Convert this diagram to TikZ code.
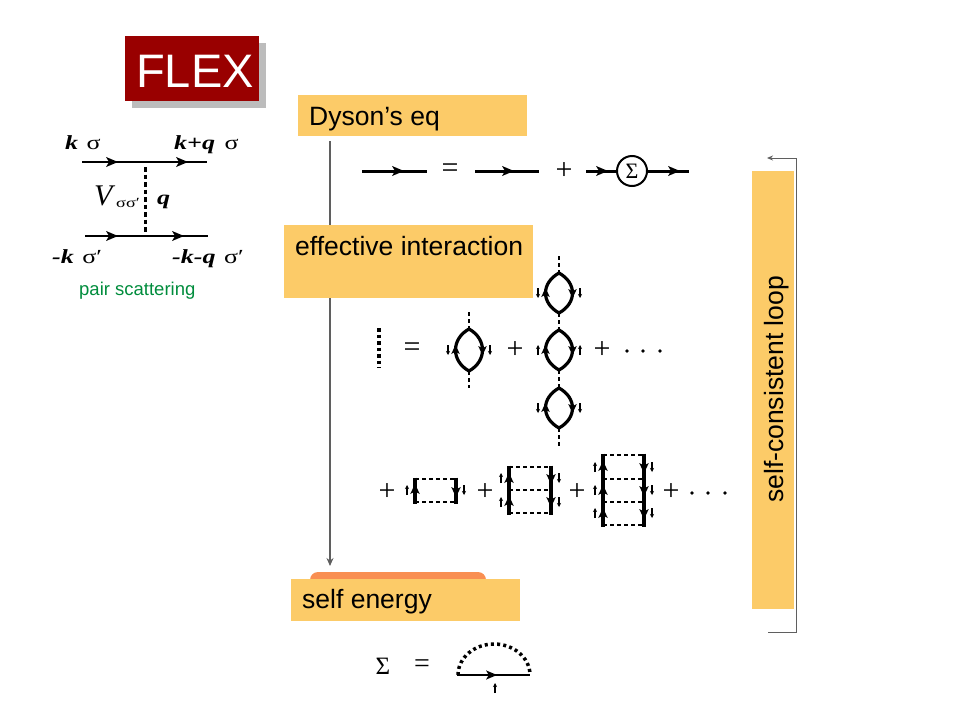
\documentclass[tikz,border=0pt]{standalone}
\usepackage{fontspec}
\setmainfont{Liberation Sans}
\newfontfamily\tms{Liberation Serif}
\newfontfamily\tmsw[FakeStretch=1.3]{Liberation Serif}
\usetikzlibrary{arrows.meta}
\definecolor{flexred}{RGB}{153,0,0}
\definecolor{flexshadow}{RGB}{188,188,188}
\definecolor{boxyel}{RGB}{252,203,104}
\definecolor{boxorg}{RGB}{249,143,82}
\definecolor{pairgreen}{RGB}{0,140,60}
\definecolor{flowgray}{RGB}{95,95,95}
\newcommand\myfs[1]{\fontsize{#1}{#1}\selectfont}
% filled arrow heads: tip at (#1,#2), length #3
\newcommand\tipR[3]{\fill (#1,#2) -- ++(-#3,-0.42*#3) -- ++(0.25*#3,0.42*#3) -- ++(-0.25*#3,0.42*#3) -- cycle;}
\newcommand\tipU[3]{\fill (#1,#2) -- ++(-0.48*#3,#3) -- ++(0.48*#3,-0.25*#3) -- ++(0.48*#3,0.25*#3) -- cycle;}
\newcommand\tipD[3]{\fill (#1,#2) -- ++(-0.48*#3,-#3) -- ++(0.48*#3,0.25*#3) -- ++(0.48*#3,-0.25*#3) -- cycle;}
\begin{document}
\begin{tikzpicture}[x=1pt,y=-1pt,
  prop/.style={line width=3pt},
  fprop/.style={line width=2.4pt},
  lensline/.style={line width=3.2pt},
  ladline/.style={line width=3.4pt},
  spin/.style={line width=1.1pt,-{Stealth[length=4pt,width=4pt]}},
  thindash/.style={line width=1.4pt,dash pattern=on 4pt off 3pt},
  thickdot/.style={line width=4pt,dash pattern=on 3.5pt off 3pt},
  ybox/.style={fill=boxyel,anchor=north west,inner sep=0pt},
  lbl/.style={anchor=base west,inner sep=0pt},
  sym/.style={inner sep=0pt,font=\tms\myfs{30}},
  dotc/.style={fill=black,circle,inner sep=0pt,minimum size=3.8pt},
  flow/.style={flowgray,line width=1.2pt,-{Stealth[length=8pt,width=7pt]}},
  loopline/.style={flowgray,line width=1pt,-{Stealth[length=6pt,width=5pt]}}
]
\useasboundingbox (0,0) rectangle (960,720);

% ---------- FLEX title ----------
\fill[flexshadow] (132,43) rectangle (266,108);
\node[fill=flexred,anchor=north west,minimum width=134pt,minimum height=65pt,inner sep=0pt] (flexbox) at (125,36) {};
\node[lbl,text=white,font=\myfs{47}] (flextext) at (136,87) {FLEX};

% ---------- pair scattering diagram ----------
\coordinate (t1) at (82,162); \coordinate (t2) at (207,162);
\coordinate (b1) at (85,236); \coordinate (b2) at (208,236);
\coordinate (vt) at (145,167); \coordinate (vb) at (145,233);
\draw[fprop] (t1) -- (t2);
\draw[fprop] (b1) -- (b2);
\tipR{118}{162}{12} \tipR{188}{162}{12}
\tipR{118}{236}{12} \tipR{184}{236}{12}
\draw[line width=3pt,dash pattern=on 4.5pt off 3pt] (vt) -- (vb);
\node[lbl,font=\tmsw\myfs{20}] (lks) at (65,149) {\textbf{\textit{k}}\hspace{2pt} σ};
\node[lbl,font=\tmsw\myfs{20}] (lkqs) at (174,149) {\textbf{\textit{k+q}}\hspace{3pt} σ};
\node[lbl,font=\tms\myfs{30}] (lV) at (94,205) {\textit{V}};
\node[lbl,font=\tmsw\myfs{14}] (lVs) at (116,207) {σσ′};
\node[lbl,font=\tmsw\myfs{20}] (lq) at (157,204) {\textbf{\textit{q}}};
\node[lbl,font=\tmsw\myfs{20}] (lmks) at (52,263) {\textbf{\textit{-k}}\hspace{2pt} σ′};
\node[lbl,font=\tmsw\myfs{20}] (lmkqs) at (172,263) {\textbf{\textit{-k-q}}\hspace{2pt} σ′};
\node[lbl,text=pairgreen,font=\myfs{18.5}] (pair) at (79,295) {pair scattering};

% ---------- flow arrow ----------
\coordinate (dysonout) at (330,141);
\coordinate (selfin) at (330,566);
\draw[flow] (dysonout) -- (selfin);

% ---------- boxes ----------
\node[ybox,minimum width=229pt,minimum height=41pt] (dysonbox) at (298,95) {};
\node[lbl,font=\myfs{26.5}] (dysontext) at (309,125) {Dyson’s eq};
\node[ybox,minimum width=249pt,minimum height=73pt] (effbox) at (284,225) {};
\node[lbl,font=\myfs{26.5}] (efftext) at (295,255) {effective interaction};
\fill[boxorg,rounded corners=8pt] (310,572) rectangle (486,592);
\node[ybox,minimum width=229pt,minimum height=42pt] (selfbox) at (291,579) {};
\node[lbl,font=\myfs{26.5}] (selftext) at (302,608) {self energy};
\node[ybox,minimum width=42pt,minimum height=438pt] (loopbox) at (752,171) {};
\node[lbl,rotate=90,font=\myfs{26.5}] (looptext) at (783,503) {self-consistent loop};
\coordinate (loopa) at (768,632); \coordinate (loopb) at (796,632);
\coordinate (loopc) at (796,158); \coordinate (loopd) at (767,158);
\draw[loopline] (loopa) -- (loopb) -- (loopc) -- (loopd);

% ---------- Dyson equation ----------
\node[draw,circle,line width=2pt,minimum size=30pt,inner sep=0pt,font=\tms\myfs{22}] (sig) at (632,171) {Σ};
\draw[prop] (362,171) -- (427,171); \tipR{404}{171}{12}
\node[sym] (deq) at (450,171) {=};
\draw[prop] (475,171) -- (539,171); \tipR{514}{171}{12}
\node[sym] (dplus) at (564,171) {+};
\draw[prop] (586,171) -- (sig.west); \tipR{608}{171}{12}
\draw[prop] (sig.east) -- (689,171); \tipR{680}{171}{12}

% ---------- effective interaction ----------
\draw[thickdot] (379,328) -- (379,368);
\node[sym] (ieq) at (412,350) {=};
% lens: centre x, top y, bottom y, middle y
\newcommand\mylens[4]{%
  \draw[lensline] (#1,#3) .. controls (#1-18,#3-10) and (#1-18,#2+10) .. (#1,#2)
     .. controls (#1+18,#2+10) and (#1+18,#3-10) .. cycle;
  \tipU{#1-13.5}{#4-5}{9}
  \tipD{#1+13.5}{#4+5}{9}
}
\newcommand\spindown[2]{\draw[spin] (#1,#2-5) -- (#1,#2+5);}
\newcommand\spinup[2]{\draw[spin] (#1,#2+5) -- (#1,#2-5);}
% bubble 1
\draw[thindash] (469,312) -- (469,329);
\draw[thindash] (469,371) -- (469,388);
\mylens{469}{329}{371}{350}
\spindown{448}{350} \spindown{490}{350}
\node[sym] (iplus1) at (515,350) {+};
% bubble column
\draw[thindash] (559,256) -- (559,273);
\mylens{559}{273}{313}{293}
\spindown{538}{293} \spindown{580}{293}
\draw[thindash] (559,313) -- (559,330);
\mylens{559}{330}{370}{350}
\spinup{538}{350} \spinup{580}{350}
\draw[thindash] (559,370) -- (559,388);
\mylens{559}{388}{428}{408}
\spindown{538}{408} \spindown{580}{408}
\draw[thindash] (559,428) -- (559,447);
\node[sym] (iplus2) at (602,350) {+};
\node[dotc] (d1) at (627,351) {};
\node[dotc] (d2) at (643,351) {};
\node[dotc] (d3) at (660,351) {};

% ---------- ladder row ----------
\node[sym] (lplus1) at (387,492) {+};
% box 1
\draw[thindash] (415,479) -- (456,479);
\draw[thindash] (415,502) -- (456,502);
\draw[ladline] (415,477.5) -- (415,503.5);
\draw[ladline] (456,477.5) -- (456,503.5);
\tipU{415}{484}{10} \tipD{456}{497}{10}
\spinup{407}{490} \spindown{464}{490}
\node[sym] (lplus2) at (485,492) {+};
% box 2
\foreach \yy in {467,490,513} {\draw[thindash] (509,\yy) -- (551,\yy);}
\draw[ladline] (509,465.5) -- (509,514.5);
\draw[ladline] (551,465.5) -- (551,514.5);
\tipU{509}{473}{10} \tipU{509}{496}{10}
\tipD{551}{484}{10} \tipD{551}{507}{10}
\spinup{501}{478} \spinup{501}{502}
\spindown{559}{478} \spindown{559}{502}
\node[sym] (lplus3) at (577,492) {+};
% box 3
\foreach \yy in {455,479,502,525} {\draw[thindash] (603,\yy) -- (644,\yy);}
\draw[ladline] (603,453.5) -- (603,526.5);
\draw[ladline] (644,453.5) -- (644,526.5);
\tipU{603}{461}{10} \tipU{603}{485}{10} \tipU{603}{508}{10}
\tipD{644}{473}{10} \tipD{644}{496}{10} \tipD{644}{519}{10}
\spinup{595}{467} \spinup{595}{490} \spinup{595}{513}
\spindown{652}{467} \spindown{652}{490} \spindown{652}{513}
\node[sym] (lplus4) at (671,492) {+};
\node[dotc] (e1) at (692,493) {};
\node[dotc] (e2) at (708,493) {};
\node[dotc] (e3) at (725,493) {};

% ---------- self energy equation ----------
\node[inner sep=0pt,font=\tms\myfs{25}] (ssig) at (383,666) {Σ};
\node[inner sep=0pt,font=\tms\myfs{28}] (seq) at (422,666) {=};
\draw[line width=3.5pt,dash pattern=on 3pt off 3.2pt] (458,675) arc[start angle=180,end angle=0,x radius=36pt,y radius=31pt];
\draw[line width=2.8pt] (457,675) -- (530,675);
\tipR{497}{675}{11}
\spinup{495}{688}
\end{tikzpicture}
\end{document}
